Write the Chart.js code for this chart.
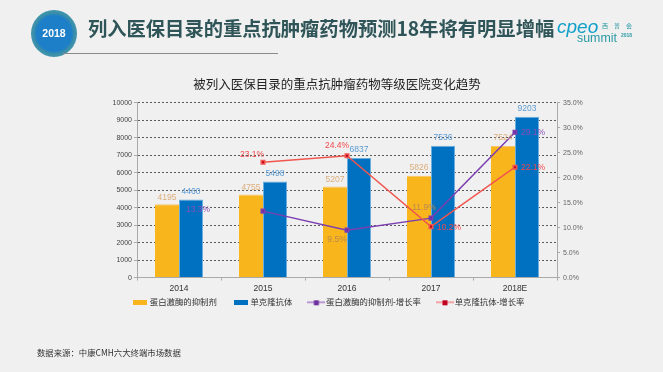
<!DOCTYPE html>
<html lang="zh">
<head>
    <meta charset="UTF-8">
    <title>列入医保目录的重点抗肿瘤药物预测18年将有明显增幅</title>
    <script src="https://cdn.jsdelivr.net/npm/chart.js"></script>
    <style>
        html, body { margin: 0; padding: 0; width: 663px; height: 372px; overflow: hidden; background: #f0f0f0; font-family: 'Noto Sans CJK SC', sans-serif; }
        canvas { position: absolute; left: 0; top: 0; display: block; }
        .badge { position: absolute; left: 31px; top: 10px; width: 46px; height: 47px; border-radius: 50%; background: radial-gradient(circle, #1d7fc8 0, #1d7fc8 54%, #3a8ea8 62%, #4c9eb6 82%, #6aa9b0 100%); color: #fff; font: bold 10.5px 'Liberation Sans', sans-serif; line-height: 47px; text-align: center; }
        .rule { position: absolute; left: 63px; top: 53px; width: 215px; height: 1px; background: #8a8a8a; }
        .head { position: absolute; left: 88px; top: 15px; font-size: 19.3px; font-weight: bold; line-height: 26px; color: #2f5558; white-space: nowrap; }
        .logo { position: absolute; color: #2a9aa4; white-space: nowrap; }
        .source { position: absolute; left: 37px; top: 346px; font-size: 8.4px; line-height: 12px; color: #333; white-space: nowrap; }
    </style>
</head>
<body>
    <canvas id="chart" width="663" height="372"></canvas>
    <div class="badge">2018</div>
    <div class="rule"></div>
    <div class="head">列入医保目录的重点抗肿瘤药物预测18年将有明显增幅</div>
    <div class="logo" style="left:557px;top:16px;font:italic 19px 'Liberation Sans',sans-serif;line-height:22px;color:#12a0c8;">cpeo</div>
    <div class="logo" style="left:602px;top:21px;font-size:6px;line-height:10px;letter-spacing:6px;">西普会</div>
    <div class="logo" style="left:577px;top:31px;font:12.4px 'Liberation Sans',sans-serif;line-height:14px;">summit</div>
    <div class="logo" style="left:621px;top:32px;font:bold 5px 'Liberation Sans',sans-serif;line-height:7px;">2018</div>
    <div class="source">数据来源：中康CMH六大终端市场数据</div>

    <script>
        const categories = ["2014", "2015", "2016", "2017", "2018E"];
        const kinaseValues = [4195, 4755, 5207, 5826, 7524];
        const antibodyValues = [4460, 5498, 6837, 7536, 9203];
        const kinaseGrowth = [null, 13.3, 9.5, 11.9, 29.1];
        const antibodyGrowth = [null, 23.1, 24.4, 10.2, 22.1];

        const cjkFont = "'Liberation Sans', 'Noto Sans CJK SC', sans-serif";

        // where each value label sits relative to its mark, same order as the datasets
        const labelStyles = [
            { color: "#dcae7c", offsets: [[0, -7], [0, -7], [0, -7], [0, -8], [0, -8]] },
            { color: "#5b9bd5", offsets: [[0, -8], [0, -8], [0, -8], [0, -8], [0, -8]] },
            { color: "#8a4fb8", offsets: [null, [-65, -1], [-10, 10], [-7, -10], [18, 0]], text: ["", "", "#b98a52", "#b98a52", ""] },
            { color: "#f2484c", offsets: [null, [-11, -8], [-10, -10], [18, 1], [18, 0]] }
        ];

        function swatch(w, h, fill, markFill) {
            let c = document.createElement("canvas");
            c.width = w;
            c.height = h;
            let g = c.getContext("2d");
            if (markFill) {
                g.fillStyle = fill;
                g.fillRect(0, Math.floor(h / 2) - 1, w, 2);
                g.fillStyle = markFill;
                g.fillRect(w / 2 - 2.5, h / 2 - 2.5, 5, 5);
            } else {
                g.fillStyle = fill;
                g.fillRect(0, 0, w, h);
            }
            return c;
        }
        const swatches = [
            swatch(14, 5, "#f9b51c"),
            swatch(14, 5, "#0070c0"),
            swatch(18, 7, "#bb9ad6", "#7030a0"),
            swatch(18, 7, "#f4a4a4", "#c00020")
        ];

        const valueLabels = {
            id: "valueLabels",
            afterDatasetsDraw(chart) {
                let ctx = chart.ctx;
                ctx.save();
                ctx.font = "8.5px 'Liberation Sans', sans-serif";
                ctx.textAlign = "center";
                ctx.textBaseline = "middle";
                chart.data.datasets.forEach((ds, i) => {
                    let style = labelStyles[i];
                    chart.getDatasetMeta(i).data.forEach((el, j) => {
                        if (ds.data[j] === null) return;
                        let isLine = i > 1;
                        let txt = isLine ? ds.data[j].toFixed(1) + "%" : String(ds.data[j]);
                        ctx.fillStyle = (style.text && style.text[j]) || style.color;
                        ctx.fillText(txt, el.x + style.offsets[j][0], el.y + style.offsets[j][1]);
                    });
                });
                ctx.restore();
            }
        };

        // title and legend sit off their default spots in the original
        const shiftBoxes = {
            id: "shiftBoxes",
            afterLayout(chart) {
                chart.titleBlock.left += 7.5;
                chart.titleBlock.right += 7.5;
                chart.legend.top -= 15.5;
                chart.legend.bottom -= 15.5;
            }
        };

        new Chart(document.getElementById("chart"), {
            type: "bar",
            data: {
                labels: categories,
                datasets: [
                    { label: "蛋白激酶的抑制剂", data: kinaseValues, backgroundColor: "#f9b51c", borderColor: "#f7c668", borderWidth: { top: 1 }, categoryPercentage: 0.573, barPercentage: 1, yAxisID: "y", order: 2 },
                    { label: "单克隆抗体", data: antibodyValues, backgroundColor: "#0070c0", borderColor: "#6aaede", borderWidth: 1, categoryPercentage: 0.573, barPercentage: 1, yAxisID: "y", order: 2 },
                    { type: "line", label: "蛋白激酶的抑制剂-增长率", data: kinaseGrowth, borderColor: "#7b3fb0", backgroundColor: "#7030a0", borderWidth: 1.5, pointStyle: "rect", pointRadius: 2.5, tension: 0, yAxisID: "y1", order: 1 },
                    { type: "line", label: "单克隆抗体-增长率", data: antibodyGrowth, borderColor: "#f0564e", backgroundColor: "#c00020", borderWidth: 1.5, pointStyle: "rect", pointRadius: 2.5, tension: 0, yAxisID: "y1", order: 0 }
                ]
            },
            options: {
                responsive: false,
                animation: false,
                layout: { padding: { left: 60, right: 64, top: 71, bottom: 39.5 } },
                plugins: {
                    title: {
                        display: true,
                        text: "被列入医保目录的重点抗肿瘤药物等级医院变化趋势",
                        color: "#222",
                        font: { family: cjkFont, size: 12.5, weight: "normal" },
                        padding: { top: 7.5, bottom: 9.2 }
                    },
                    legend: {
                        position: "bottom",
                        labels: {
                            usePointStyle: true,
                            pointStyleWidth: 11,
                            padding: 18.5,
                            color: "#333",
                            font: { family: cjkFont, size: 8.4 },
                            generateLabels(chart) {
                                return chart.data.datasets.map((ds, i) => ({
                                    text: ds.label,
                                    fontColor: "#333",
                                    pointStyle: swatches[i],
                                    datasetIndex: i,
                                    lineWidth: 0
                                }));
                            }
                        }
                    },
                    tooltip: { enabled: false }
                },
                scales: {
                    x: {
                        afterFit(axis) { axis.height = 18; },
                        grid: { offset: true, drawOnChartArea: false, tickLength: 3, tickColor: "#aaa" },
                        border: { color: "#aaa" },
                        ticks: { color: "#333", padding: 3, maxRotation: 0, font: { family: "'Liberation Sans'", size: 8.5 } }
                    },
                    y: {
                        position: "left",
                        min: 0,
                        max: 10000,
                        afterFit(axis) { axis.width = 77; },
                        grid: { color: "#5a5a5a", tickLength: 3, tickColor: "#aaa" },
                        border: { color: "#aaa", dash: [2, 2] },
                        ticks: { stepSize: 1000, color: "#444", padding: 2, callback: v => String(v), font: { family: "'Liberation Sans'", size: 7 } }
                    },
                    y1: {
                        position: "right",
                        min: 0,
                        max: 35,
                        afterFit(axis) { axis.width = 42; },
                        grid: { drawOnChartArea: false, tickLength: 3, tickColor: "#aaa" },
                        border: { color: "#aaa" },
                        ticks: { stepSize: 5, color: "#666", padding: 3, callback: v => v.toFixed(1) + "%", font: { family: "'Liberation Sans'", size: 7 } }
                    }
                }
            },
            plugins: [valueLabels, shiftBoxes]
        });
    </script>
</body>
</html>
